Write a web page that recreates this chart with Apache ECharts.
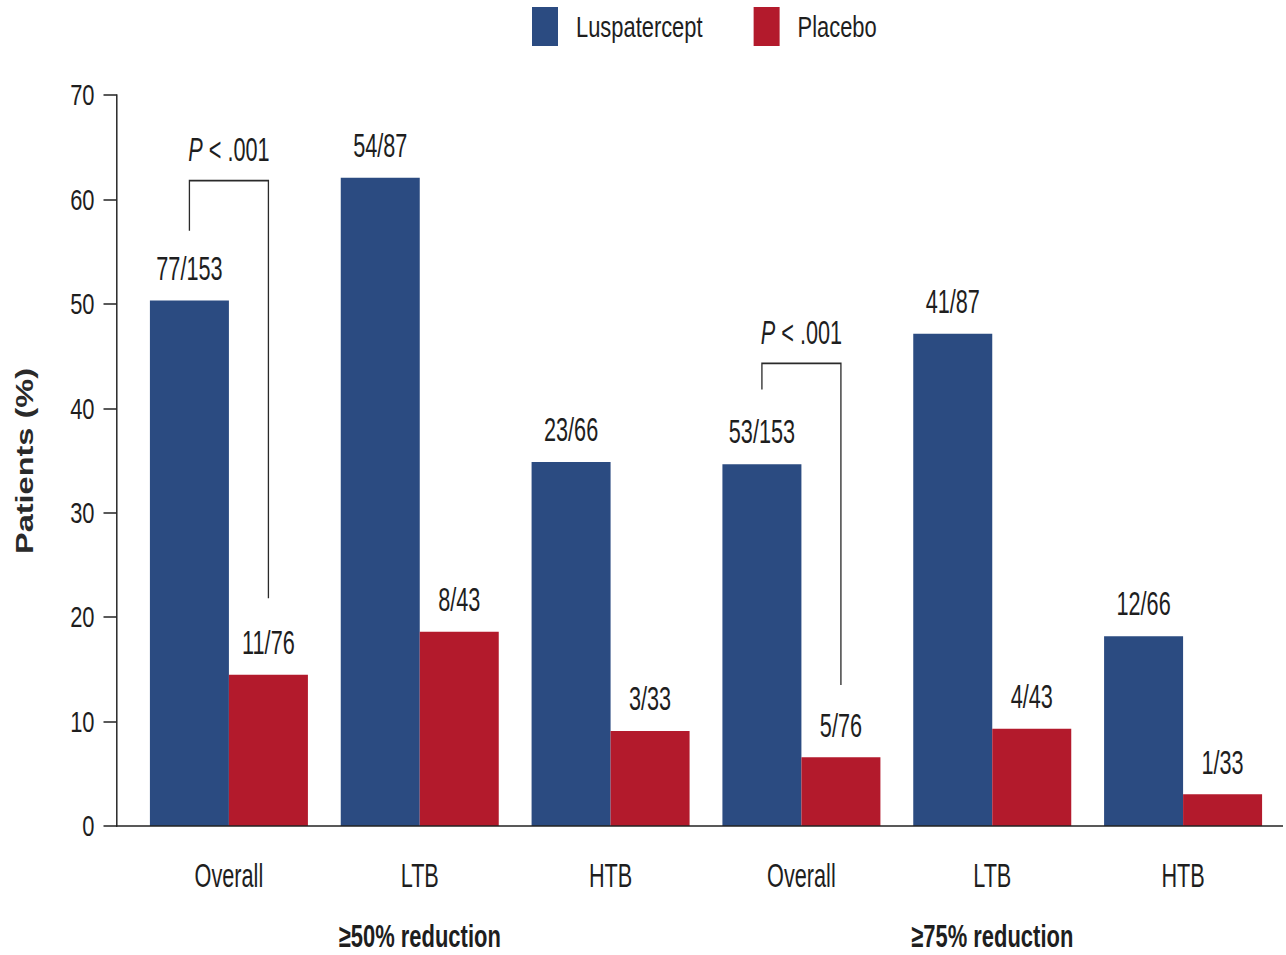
<!DOCTYPE html>
<html>
<head>
<meta charset="utf-8">
<script src="https://cdn.jsdelivr.net/npm/echarts@6/dist/echarts.min.js"></script>
<style>
  html, body { margin: 0; padding: 0; background: #ffffff; overflow: hidden; }
  #wrap { width: 1286px; height: 955px; overflow: hidden; }
  /* the chart is laid out wide and squeezed horizontally to get the condensed type */
  #chart { height: 955px; transform-origin: 0 0; }
</style>
</head>
<body>
<div id="wrap"><div id="chart"></div></div>
<script>
// Response rates by transfusion burden subgroup
const categories = ['Overall', 'LTB', 'HTB', 'Overall', 'LTB', 'HTB'];
const luspaterceptResponders = [77, 54, 23, 53, 41, 12];
const luspaterceptTotals = [153, 87, 66, 153, 87, 66];
const placeboResponders = [11, 8, 3, 5, 4, 1];
const placeboTotals = [76, 43, 33, 76, 43, 33];
const seriesNames = ['Luspatercept', 'Placebo'];
const yMin = 0, yMax = 70, yStep = 10;
const groupLabels = [
  { category: 1, text: '≥50% reduction' },
  { category: 4, text: '≥75% reduction' }
];
// significance brackets: [category, left end, top, right end] in percent
const brackets = [
  [0, 57.0, 61.8, 21.8],
  [3, 41.8, 44.3, 13.5]
];

const SQ = 0.73;                 // horizontal squeeze of the whole drawing
const NARROW = 0.9;              // extra squeeze for the larger annotation type
const W = 1286 / SQ;
const px = v => v / SQ;          // screen x-distance -> layout x-distance

const el = document.getElementById('chart');
el.style.width = W + 'px';
el.style.transform = 'scaleX(' + SQ + ')';

const FONT = '"Liberation Sans", Arial, Helvetica, sans-serif';
const BLUE = '#2b4b81';
const RED = '#b31a2c';
const INK = '#1e1e1e';
const BAR_W = px(79);
const BIG = 33;

const lusValues = luspaterceptResponders.map((v, i) => v / luspaterceptTotals[i] * 100);
const plaValues = placeboResponders.map((v, i) => v / placeboTotals[i] * 100);
const lusLabels = luspaterceptResponders.map((v, i) => v + '/' + luspaterceptTotals[i]);
const plaLabels = placeboResponders.map((v, i) => v + '/' + placeboTotals[i]);

const chart = echarts.init(el, null, { renderer: 'svg', width: W, height: 955 });

// value labels above each bar, half a bar to the left or right of the category centre
function labelSeries(values, labels, side) {
  return {
    type: 'custom',
    data: values.map((v, i) => [i, v]),
    silent: true,
    clip: false,
    z: 6,
    renderItem: (params, api) => {
      const p = api.coord([api.value(0), api.value(1)]);
      return {
        type: 'text',
        x: p[0] + side * BAR_W / 2,
        y: p[1] - 32,
        scaleX: NARROW,
        style: {
          text: labels[params.dataIndex],
          fontFamily: FONT,
          fontSize: BIG,
          fill: INK,
          align: 'center',
          verticalAlign: 'middle'
        }
      };
    }
  };
}

chart.setOption({
  backgroundColor: '#ffffff',
  animation: false,
  legend: {
    data: seriesNames,
    left: px(532),
    top: 7,
    padding: 0,
    itemWidth: px(26),
    itemHeight: 39,
    itemGap: px(51),
    icon: 'rect',
    textStyle: { fontFamily: FONT, fontSize: 30, color: INK, padding: [0, 0, 0, px(18) - 5] }
  },
  grid: { left: px(133.5), right: px(7.5), top: 95, bottom: 129 },
  xAxis: {
    type: 'category',
    data: categories,
    axisLine: { show: false },
    axisTick: { show: false },
    axisLabel: { show: false }
  },
  yAxis: {
    type: 'value',
    min: yMin,
    max: yMax,
    interval: yStep,
    offset: px(17),
    splitLine: { show: false },
    axisLine: { show: true, lineStyle: { color: '#222', width: 2 } },
    axisTick: { show: true, length: px(13), lineStyle: { color: '#222', width: 1.5 } },
    axisLabel: { fontFamily: FONT, fontSize: 30, color: INK, margin: px(22) }
  },
  series: [
    {
      name: seriesNames[0],
      type: 'bar',
      data: lusValues,
      barWidth: BAR_W,
      barGap: '0%',
      itemStyle: { color: BLUE }
    },
    {
      name: seriesNames[1],
      type: 'bar',
      data: plaValues,
      barWidth: BAR_W,
      barGap: '0%',
      itemStyle: { color: RED }
    },
    labelSeries(lusValues, lusLabels, -1),
    labelSeries(plaValues, plaLabels, 1),
    {
      type: 'custom',
      data: brackets,
      silent: true,
      clip: false,
      z: 5,
      renderItem: (params, api) => {
        const c = api.value(0);
        const left = api.coord([c, api.value(1)]);
        const top = api.coord([c, api.value(2)]);
        const right = api.coord([c, api.value(3)]);
        const xl = top[0] - BAR_W / 2;
        const xr = top[0] + BAR_W / 2;
        return {
          type: 'group',
          children: [
            {
              type: 'polyline',
              shape: { points: [[xl, left[1]], [xl, top[1]], [xr, top[1]], [xr, right[1]]] },
              style: { stroke: '#2a2a2a', lineWidth: 1.8, fill: null }
            },
            {
              type: 'text',
              x: top[0],
              y: top[1] - 31,
              scaleX: NARROW,
              style: {
                text: '{i|P} < .001',
                rich: {
                  i: { fontFamily: FONT, fontSize: BIG, fontStyle: 'italic', fill: INK }
                },
                fontFamily: FONT,
                fontSize: BIG,
                fill: INK,
                align: 'center',
                verticalAlign: 'middle'
              }
            }
          ]
        };
      }
    }
  ]
});

// baseline, category names, group captions and axis title placed through the chart's own scales
function decorate() {
  const y0 = chart.convertToPixel({ yAxisIndex: 0 }, yMin);
  const elements = [
    {
      type: 'line',
      shape: { x1: px(116), y1: y0, x2: px(1283), y2: y0 },
      style: { stroke: '#222', lineWidth: 1.6 },
      z: 10
    },
    {
      type: 'text',
      x: px(25),
      y: 461,
      rotation: Math.PI / 2,
      style: {
        text: 'Patients (%)',
        fontFamily: FONT,
        fontWeight: 'bold',
        fontSize: 32.5,
        fill: '#2a2a2a',
        align: 'center',
        verticalAlign: 'middle'
      }
    }
  ];
  categories.forEach((name, i) => {
    elements.push({
      type: 'text',
      x: chart.convertToPixel({ xAxisIndex: 0 }, i),
      y: y0 + 50,
      scaleX: NARROW,
      style: {
        text: name,
        fontFamily: FONT,
        fontSize: BIG,
        fill: INK,
        align: 'center',
        verticalAlign: 'middle'
      }
    });
  });
  groupLabels.forEach(g => {
    elements.push({
      type: 'text',
      x: chart.convertToPixel({ xAxisIndex: 0 }, g.category),
      y: y0 + 110,
      scaleX: 0.94,
      style: {
        text: g.text,
        fontFamily: FONT,
        fontWeight: 'bold',
        fontSize: 32,
        fill: INK,
        align: 'center',
        verticalAlign: 'middle'
      }
    });
  });
  chart.setOption({ graphic: { elements } });
}
decorate();
</script>
</body>
</html>
